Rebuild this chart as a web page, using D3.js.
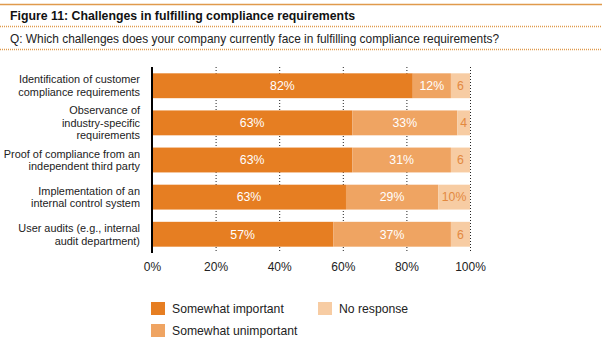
<!DOCTYPE html>
<html><head><meta charset="utf-8">
<script src="https://cdn.jsdelivr.net/npm/d3@7"></script>
<style>body{margin:0;background:#fff;font-family:"Liberation Sans",Arial,sans-serif;}</style>
</head><body><svg id="c" width="603" height="340"></svg>
<script>
const titleText = "Figure 11: Challenges in fulfilling compliance requirements";
const subtitleText = "Q: Which challenges does your company currently face in fulfilling compliance requirements?";
const categories = [
  ["Identification of customer", "compliance requirements"],
  ["Observance of", "industry-specific", "requirements"],
  ["Proof of compliance from an", "independent third party"],
  ["Implementation of an", "internal control system"],
  ["User audits (e.g., internal", "audit department)"]
];
const seriesNames = ["Somewhat important", "Somewhat unimportant", "No response"];
const important = [82, 63, 63, 61, 57];
const unimportant = [12, 33, 31, 29, 37];
const noResponse = [6, 4, 6, 10, 6];
const importantLabels = ["82%", "63%", "63%", "63%", "57%"];
const unimportantLabels = ["12%", "33%", "31%", "29%", "37%"];
const noResponseLabels = ["6", "4", "6", "10%", "6"];
const ticks = [0, 20, 40, 60, 80, 100];
const colors = ["#E67E22", "#EFA462", "#F7CCA3"];
const textColors = ["#fff", "#fff", "#E3893F"];

const svg = d3.select("#c");
// header
svg.append("line").attr("x1",0).attr("x2",602).attr("y1",4.5).attr("y2",4.5).attr("stroke","#E09A4C").attr("stroke-width",1.5);
svg.append("text").attr("x",10).attr("y",20).attr("font-size",12.3).attr("font-weight","bold").attr("fill","#111").text(titleText);
[26.5, 49.5].forEach(y=>svg.append("line").attr("x1",0).attr("x2",602).attr("y1",y).attr("y2",y).attr("stroke","#E09A4C").attr("stroke-width",1.5).attr("stroke-dasharray","1,1"));
svg.append("text").attr("x",10).attr("y",43).attr("font-size",11.9).attr("fill","#222").text(subtitleText);

const x = d3.scaleLinear().domain([0,100]).range([152,470]);
const y = d3.scaleBand().domain(d3.range(categories.length)).range([67,253]).paddingInner(0.33).paddingOuter(0.17);

// gridlines
const g = svg.append("g");
g.selectAll("line.grid").data(ticks.slice(1)).join("line")
  .attr("x1",d=>x(d)+0.5).attr("x2",d=>x(d)+0.5).attr("y1",67).attr("y2",253)
  .attr("stroke","#222").attr("stroke-width",1).attr("stroke-dasharray","1,2");

const stackData = categories.map((c,i)=>({i, v:[important[i], unimportant[i], noResponse[i]], l:[importantLabels[i], unimportantLabels[i], noResponseLabels[i]]}));
const stack = d3.stack().keys([0,1,2]).value((d,k)=>d.v[k]);
const layers = stack(stackData);
layers.forEach((layer,k)=>{
  const lg = svg.append("g");
  lg.selectAll("rect").data(layer).join("rect")
    .attr("x",d=>x(d[0])).attr("width",d=>x(d[1])-x(d[0]))
    .attr("y",(d,i)=>y(i)).attr("height",y.bandwidth()).attr("fill",colors[k]);
  lg.selectAll("text").data(layer).join("text")
    .attr("x",d=>(x(d[0])+x(d[1]))/2).attr("y",(d,i)=>y(i)+y.bandwidth()/2+4.3)
    .attr("text-anchor","middle").attr("font-size",12.3).attr("fill",textColors[k])
    .text((d,i)=>stackData[i].l[k]);
});

// axis line
svg.append("line").attr("x1",152).attr("x2",152).attr("y1",67).attr("y2",253).attr("stroke","#000").attr("stroke-width",2);

// category labels
categories.forEach((lines,i)=>{
  const cy = y(i)+y.bandwidth()/2;
  const lh = 12.6;
  const t = svg.append("text").attr("text-anchor","end").attr("font-size",10.9).attr("fill","#222");
  lines.forEach((ln,j)=>{
    t.append("tspan").attr("x",140).attr("y",cy + (j-(lines.length-1)/2)*lh + 4).text(ln);
  });
});

// x axis tick labels
const ax = svg.append("g").attr("transform","translate(0,259)").call(d3.axisBottom(x).tickValues(ticks).tickFormat(d=>d+"%").tickSize(0).tickPadding(3));
ax.select(".domain").remove();
ax.selectAll("text").attr("font-size",12).attr("fill","#222").attr("font-family","Liberation Sans, Arial, sans-serif");

// legend
const legendPos = [[151,302],[151,324],[318,302]];
seriesNames.forEach((n,k)=>{
  svg.append("rect").attr("x",legendPos[k][0]).attr("y",legendPos[k][1]).attr("width",14).attr("height",13).attr("fill",colors[k]);
  svg.append("text").attr("x",legendPos[k][0]+21).attr("y",legendPos[k][1]+11).attr("font-size",12.2).attr("fill","#222").text(n);
});
</script></body></html>
